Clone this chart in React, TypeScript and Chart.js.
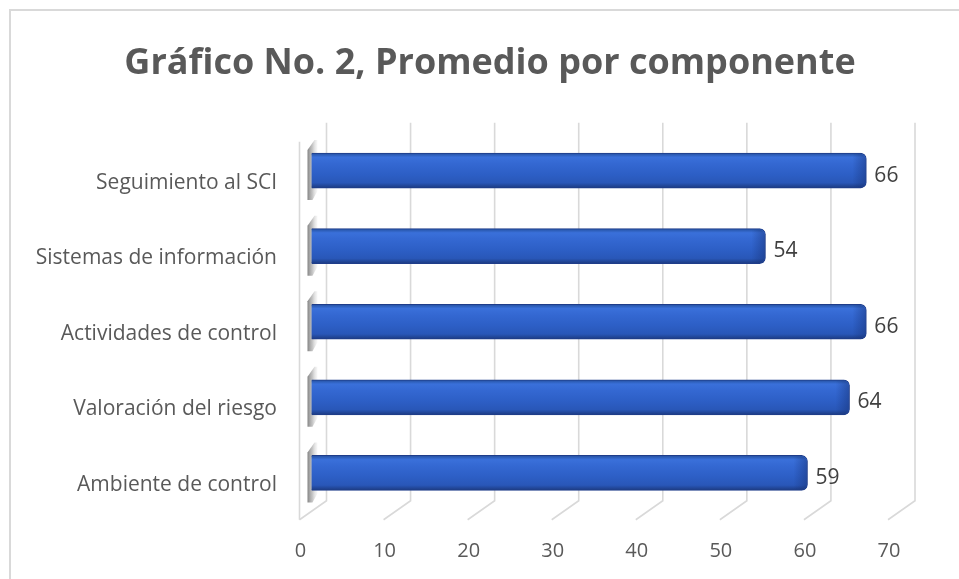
import React, { useEffect, useRef } from "react";
import { Chart, registerables } from "chart.js";

Chart.register(...registerables);

const categories = [
  "Seguimiento al SCI",
  "Sistemas de información",
  "Actividades de control",
  "Valoración del riesgo",
  "Ambiente de control",
];
const values = [66, 54, 66, 64, 59];
const xTickValues = [0, 10, 20, 30, 40, 50, 60, 70];
const titleText = "Gráfico No. 2, Promedio por componente";

const FONT = "'Open Sans', 'Noto Sans', sans-serif";
const GRID = "#d9d9d9";
const TEXT = "#595959";
const BAR_SHIFT = -15;
const BAR_H = 35;

const threeD = {
  id: "threeD",
  afterLayout(chart: any) {
    const ys = chart.scales.y;
    if (ys) ys.left = 0;
  },
  beforeDatasetsDraw(chart: any) {
    const { ctx, chartArea: a, scales } = chart;
    const xs = scales.x;
    const top = a.top - 10;
    const bot = a.bottom - 10;
    ctx.save();
    ctx.strokeStyle = GRID;
    ctx.lineWidth = 1.6;
    for (const v of xTickValues) {
      const x = xs.getPixelForValue(v);
      ctx.beginPath();
      ctx.moveTo(x, top);
      ctx.lineTo(x, bot);
      ctx.lineTo(x - 27, bot + 19);
      ctx.stroke();
    }
    const x0 = xs.getPixelForValue(0);
    ctx.beginPath();
    ctx.moveTo(x0 - 27, a.top + 9);
    ctx.lineTo(x0 - 27, bot + 19);
    ctx.stroke();
    const meta = chart.getDatasetMeta(0);
    meta.data.forEach((el: any) => {
      if (!isFinite(el.y)) return;
      const t = el.y - BAR_H / 2;
      const b = el.y + BAR_H / 2;
      const g = ctx.createLinearGradient(x0 - 20, 0, x0 - 8, 0);
      g.addColorStop(0, "rgba(70,70,70,0.75)");
      g.addColorStop(0.5, "rgba(130,130,130,0.45)");
      g.addColorStop(1, "rgba(230,230,230,0.1)");
      ctx.fillStyle = g;
      ctx.beginPath();
      ctx.moveTo(x0 - 19, t - 3);
      ctx.lineTo(x0 - 12, t - 13);
      ctx.lineTo(x0 - 9, t - 13);
      ctx.lineTo(x0 - 9, b + 3);
      ctx.lineTo(x0 - 14, b + 12);
      ctx.lineTo(x0 - 19, b + 12);
      ctx.closePath();
      ctx.fill();
    });
    ctx.restore();
    ctx.save();
    ctx.translate(BAR_SHIFT, 0);
  },
  afterDatasetsDraw(chart: any) {
    const { ctx } = chart;
    ctx.restore();
    const meta = chart.getDatasetMeta(0);
    ctx.save();
    meta.data.forEach((el: any, i: number) => {
      if (!isFinite(el.x) || !isFinite(el.y)) return;
      const end = el.x + BAR_SHIFT;
      const t = el.y - BAR_H / 2;
      const g = ctx.createLinearGradient(end - 14, 0, end, 0);
      g.addColorStop(0, "rgba(20,45,110,0)");
      g.addColorStop(1, "rgba(20,45,110,0.45)");
      ctx.fillStyle = g;
      ctx.beginPath();
      if (ctx.roundRect) {
        ctx.roundRect(end - 14, t + 1, 13.5, BAR_H - 2, [0, 6, 6, 0]);
      } else {
        ctx.rect(end - 14, t + 1, 13.5, BAR_H - 2);
      }
      ctx.fill();
      ctx.fillStyle = "#404040";
      ctx.font = `21px ${FONT}`;
      ctx.textAlign = "left";
      ctx.textBaseline = "middle";
      ctx.fillText(String(values[i]), end + 8, el.y + 5);
    });
    ctx.restore();
  },
};

export default function App() {
  const ref = useRef<HTMLCanvasElement>(null);
  useEffect(() => {
    if (!ref.current) return;
    const chart = new Chart(ref.current, {
      type: "bar",
      data: {
        labels: categories,
        datasets: [
          {
            data: values,
            barThickness: BAR_H,
            borderRadius: 6,
            borderSkipped: "start",
            borderWidth: 1,
            borderColor: "#1f3d8a",
            clip: false as any,
            backgroundColor: (c: any) => {
              const ch = c.chart;
              const ys = ch.scales && ch.scales.y;
              if (!ys || c.type !== "data") return "#2e60c8";
              const cy = ys.getPixelForValue(c.dataIndex);
              if (!isFinite(cy)) return "#2e60c8";
              const g = ch.ctx.createLinearGradient(0, cy - BAR_H / 2, 0, cy + BAR_H / 2);
              g.addColorStop(0, "#24509f");
              g.addColorStop(0.12, "#3a70da");
              g.addColorStop(0.3, "#3468d2");
              g.addColorStop(0.6, "#2d5fc6");
              g.addColorStop(0.85, "#2957b8");
              g.addColorStop(1, "#1c3a80");
              return g;
            },
          },
        ],
      },
      options: {
        indexAxis: "y",
        animation: false,
        responsive: false,
        devicePixelRatio: 1,
        layout: { padding: { left: 65, right: 65, top: 0, bottom: 0 } },
        plugins: {
          legend: { display: false },
          tooltip: { enabled: false },
          title: {
            display: true,
            text: titleText,
            color: TEXT,
            font: { family: FONT, size: 36, weight: "bold", lineHeight: 1.2 },
            padding: { top: 42, bottom: 47.55 },
          },
        },
        scales: {
          x: {
            min: 0,
            max: 70,
            grid: { display: false, drawTicks: false },
            border: { display: false },
            ticks: {
              stepSize: 10,
              color: TEXT,
              font: { family: FONT, size: 20 },
              labelOffset: -26,
              padding: 29,
            },
            afterFit: (s: any) => {
              s.height = 68.25;
            },
          },
          y: {
            grid: { display: false, drawTicks: false },
            border: { display: false },
            ticks: {
              color: TEXT,
              font: { family: FONT, size: 21 },
              labelOffset: 12,
              padding: 49.5,
            },
            afterFit: (s: any) => {
              s.width = 261.5;
            },
          },
        },
      },
      plugins: [threeD],
    });
    chart.update();
    return () => chart.destroy();
  }, []);

  return (
    <div
      style={{
        position: "fixed",
        left: 0,
        top: 0,
        width: 959,
        height: 579,
        overflow: "hidden",
        background: "#fff",
      }}
    >
      <canvas
        ref={ref}
        width={980}
        height={579}
        style={{ position: "absolute", left: 0, top: 0, width: 980, height: 579 }}
      />
      <div
        style={{
          position: "absolute",
          left: 9,
          top: 9,
          width: 1100,
          height: 800,
          border: "2px solid #d9d9d9",
          pointerEvents: "none",
        }}
      />
    </div>
  );
}
